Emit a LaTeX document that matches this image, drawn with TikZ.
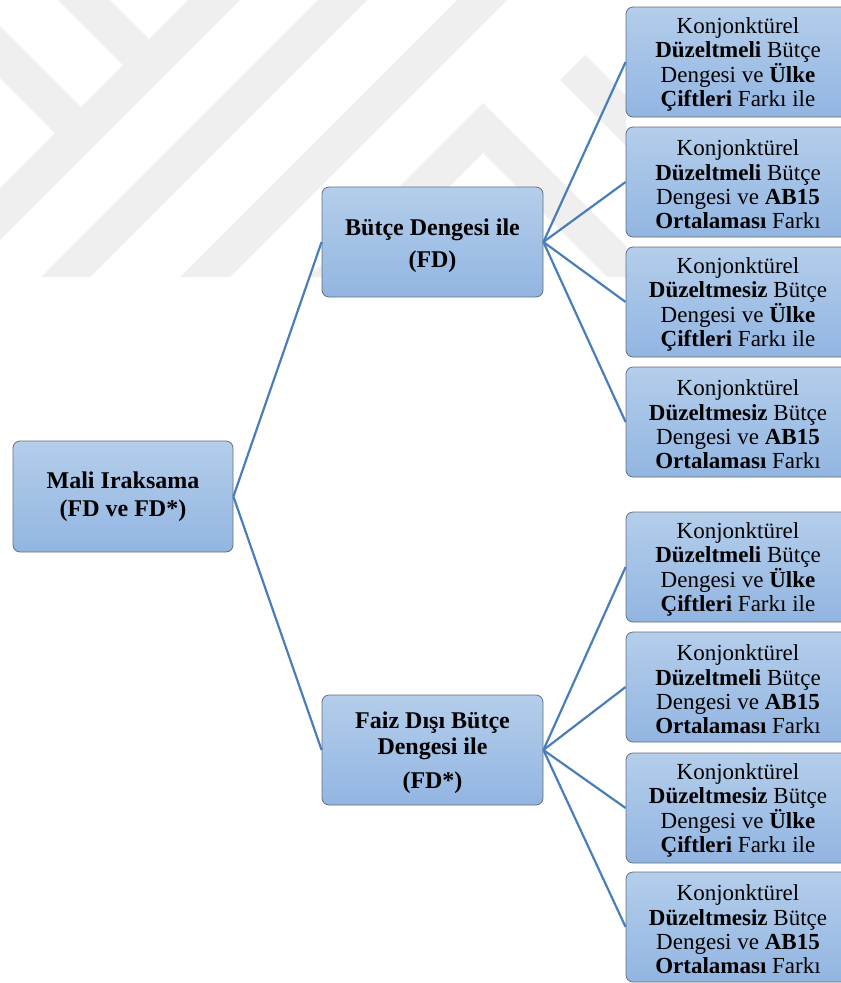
\documentclass[tikz,border=0pt]{standalone}
\usepackage{fontspec}
\setmainfont{Liberation Serif}
\definecolor{wm}{HTML}{EFEFEF}
\definecolor{boxtop}{HTML}{B4CEEB}
\definecolor{boxbot}{HTML}{92B5E1}
\definecolor{boxline}{HTML}{65707C}
\definecolor{linkc}{HTML}{4A7EBB}
\newcommand{\topstrut}[1]{\rule{0pt}{#1}}
\begin{document}
\begin{tikzpicture}[x=1pt,y=-1pt,
  box/.style={draw=boxline, line width=0.8pt, rounded corners=7pt, top color=boxtop, bottom color=boxbot, align=center, inner sep=0pt, text=black},
  midbox/.style={box, minimum width=221pt, minimum height=110pt, font=\fontsize{24}{26}\selectfont\bfseries},
  leafbox/.style={box, minimum width=224pt, minimum height=110pt, font=\fontsize{23}{24.3}\selectfont},
  linkline/.style={draw=linkc, line width=2.2pt}]
\useasboundingbox (0,0) rectangle (841,983);
\clip (0,0) rectangle (841,983);
% watermark
\begin{scope}
\clip (0,0) rectangle (626,277);
\fill[wm] (188,0)--(240,0)--(0,240)--(0,188)--cycle;
\fill[wm] (318,0)--(367,0)--(90,277)--(41,277)--cycle;
\fill[wm] (457,0)--(507,0)--(230,277)--(180,277)--cycle;
\fill[wm] (309,277)--(483,103)--(657,277)--(607,277)--(483,153)--(359,277)--cycle;
\fill[wm] (58,0)--(110,0)--(149,39)--(123,65)--cycle;
\fill[wm] (0,26)--(0,78)--(55,133)--(81,107)--cycle;
\fill[wm] (560,80)--(585,55)--(807,277)--(757,277)--cycle;
\end{scope}
% nodes
\node[midbox, minimum width=220pt, minimum height=111pt] (root) at (123,496.5) {Mali Iraksama\\[2pt](FD ve FD*)};
\node[midbox] (mid1) at (432.5,242) {\topstrut{25pt}Bütçe Dengesi ile\\[6pt](FD)};
\node[midbox] (mid2) at (432.5,750) {\topstrut{23pt}Faiz Dışı Bütçe\\Dengesi ile\\[8pt](FD*)};
\node[leafbox] (l1) at (738,62) {\topstrut{21pt}Konjonktürel\\\textbf{Düzeltmeli} Bütçe\\Dengesi ve \textbf{Ülke}\\\textbf{Çiftleri} Farkı ile};
\node[leafbox] (l2) at (738,182) {\topstrut{21pt}Konjonktürel\\\textbf{Düzeltmeli} Bütçe\\Dengesi ve \textbf{AB15}\\\textbf{Ortalaması} Farkı};
\node[leafbox] (l3) at (738,302) {\topstrut{21pt}Konjonktürel\\\textbf{Düzeltmesiz} Bütçe\\Dengesi ve \textbf{Ülke}\\\textbf{Çiftleri} Farkı ile};
\node[leafbox] (l4) at (738,422) {\topstrut{21pt}Konjonktürel\\\textbf{Düzeltmesiz} Bütçe\\Dengesi ve \textbf{AB15}\\\textbf{Ortalaması} Farkı};
\node[leafbox] (l5) at (738,567) {\topstrut{21pt}Konjonktürel\\\textbf{Düzeltmeli} Bütçe\\Dengesi ve \textbf{Ülke}\\\textbf{Çiftleri} Farkı ile};
\node[leafbox] (l6) at (738,687) {\topstrut{21pt}Konjonktürel\\\textbf{Düzeltmeli} Bütçe\\Dengesi ve \textbf{AB15}\\\textbf{Ortalaması} Farkı};
\node[leafbox] (l7) at (738,808) {\topstrut{21pt}Konjonktürel\\\textbf{Düzeltmesiz} Bütçe\\Dengesi ve \textbf{Ülke}\\\textbf{Çiftleri} Farkı ile};
\node[leafbox] (l8) at (738,927) {\topstrut{21pt}Konjonktürel\\\textbf{Düzeltmesiz} Bütçe\\Dengesi ve \textbf{AB15}\\\textbf{Ortalaması} Farkı};
% connectors
\draw[linkline] (root.east) -- (mid1.west);
\draw[linkline] (root.east) -- (mid2.west);
\foreach \t in {l1,l2,l3,l4} \draw[linkline] (mid1.east) -- (\t.west);
\foreach \t in {l5,l6,l7,l8} \draw[linkline] (mid2.east) -- (\t.west);
\end{tikzpicture}
\end{document}
